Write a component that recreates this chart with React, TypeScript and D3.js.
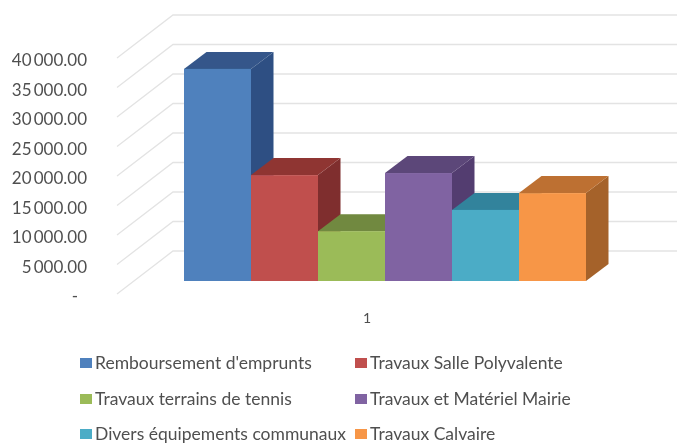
import React from "react";
import * as d3 from "d3";

const seriesNames = [
  "Remboursement d'emprunts",
  "Travaux Salle Polyvalente",
  "Travaux terrains de tennis",
  "Travaux et Matériel Mairie",
  "Divers équipements communaux",
  "Travaux Calvaire",
];
const seriesValues = [35950, 17950, 8450, 18300, 12050, 14900];
const frontColors = ["#4f81bd", "#c0504d", "#9bbb59", "#8064a2", "#4bacc6", "#f79646"];
const topColors = ["#34578a", "#8f3533", "#71893f", "#5c4679", "#31839c", "#bd7030"];
const sideColors = ["#2f5083", "#7f2f2d", "#66803a", "#523d70", "#2b7389", "#a5622a"];
const tickValues = [0, 5000, 10000, 15000, 20000, 25000, 30000, 35000, 40000];
const categoryLabel = "1";

const W = 680;
const H = 444;
const depthX = 22.5;
const depthY = -17;
const wallDx = 56;
const wallDy = -43;

const height = d3.scaleLinear().domain([0, 40000]).range([0, 236]);
const bandX = d3.scaleBand<number>().domain(d3.range(seriesValues.length)).range([184, 586]);
const floorFrontY = 294;
const barBaseY = 281;
const wallRight = 677;
const wallLeft = 117;

const fmt = (v: number) =>
  v === 0 ? "-" : d3.format(",.2f")(v).replace(/,/g, "\u2009");

const poly = (pts: [number, number][]) => d3.line()(pts) + "Z";

const legendCols = [80, 355];
const legendRows = [363, 399, 434];
const FONT = "Lato, 'Open Sans', sans-serif";
const TEXT = "#505050";

export default function App() {
  const bw = bandX.bandwidth();
  return (
    <svg
      width={W}
      height={H}
      style={{ position: "absolute", left: 0, top: 0, background: "#fff" }}
      fontFamily={FONT}
    >
      <defs>
        <filter id="soft" x="-5%" y="-5%" width="110%" height="110%">
          <feGaussianBlur stdDeviation="0.6" />
        </filter>
      </defs>
      <g filter="url(#soft)">
        {tickValues.map((t) => {
          const yF = floorFrontY - height(t);
          return (
            <g key={t}>
              <path
                d={d3.line()([
                  [wallLeft, yF],
                  [wallLeft + wallDx, yF + wallDy],
                  [wallRight, yF + wallDy],
                ]) as string}
                fill="none"
                stroke="#e3e3e3"
                strokeWidth={1.3}
              />
              <text
                x={t === 0 ? 78 : 87}
                y={yF + 8}
                textAnchor="end"
                fontSize={17}
                fill={TEXT}
              >
                {fmt(t)}
              </text>
            </g>
          );
        })}
        {seriesValues.map((v, i) => {
          const x0 = bandX(i) as number;
          const x1 = x0 + bw;
          const yB = barBaseY;
          const yT = barBaseY - height(v);
          return (
            <g key={seriesNames[i]}>
              <path
                d={poly([
                  [x1, yT],
                  [x1 + depthX, yT + depthY],
                  [x1 + depthX, yB + depthY],
                  [x1, yB],
                ])}
                fill={sideColors[i]}
              />
              <path
                d={poly([
                  [x0, yT],
                  [x0 + depthX, yT + depthY],
                  [x1 + depthX, yT + depthY],
                  [x1, yT],
                ])}
                fill={topColors[i]}
              />
              <rect x={x0} y={yT} width={bw} height={yB - yT} fill={frontColors[i]} />
            </g>
          );
        })}
        <text x={367} y={323} textAnchor="middle" fontSize={14} fill={TEXT}>
          {categoryLabel}
        </text>
        {seriesNames.map((n, i) => {
          const x = legendCols[i % 2];
          const y = legendRows[Math.floor(i / 2)];
          return (
            <g key={n}>
              <rect x={x} y={y - 5} width={12} height={10} fill={frontColors[i]} />
              <text x={x + 15} y={y + 6} fontSize={17.5} fill={TEXT}>
                {n}
              </text>
            </g>
          );
        })}
      </g>
    </svg>
  );
}
